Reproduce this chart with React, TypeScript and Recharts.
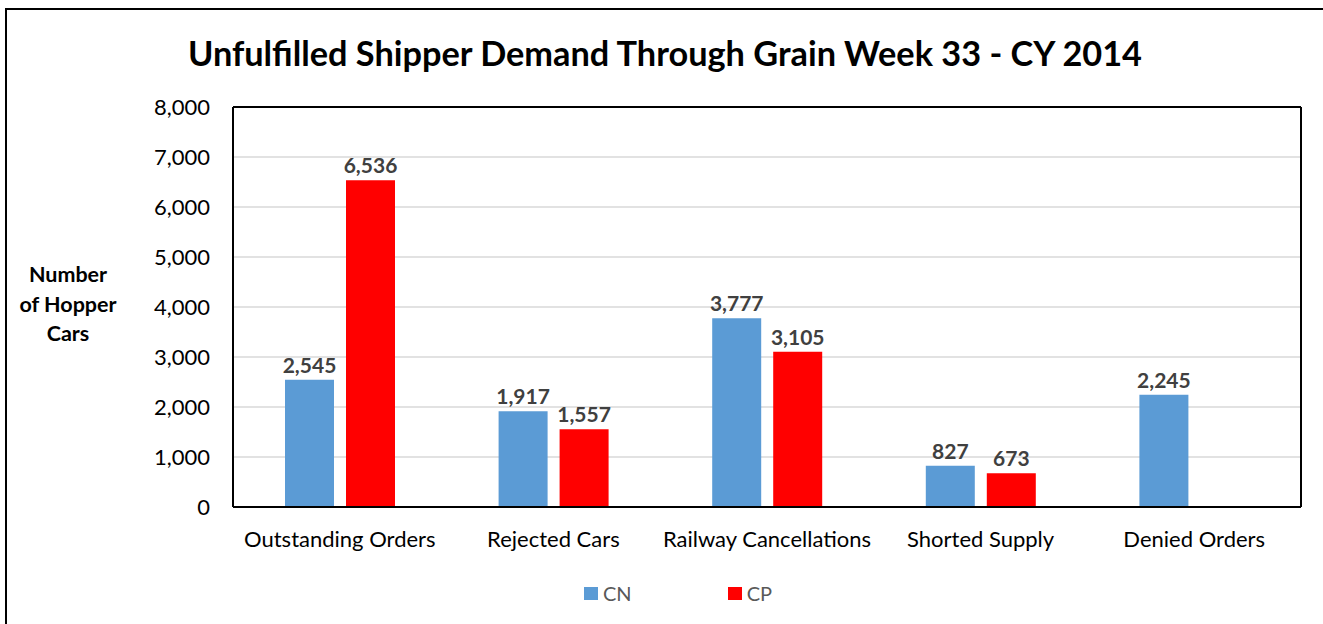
import { Bar, BarChart, CartesianGrid, LabelList, Legend, ReferenceLine, XAxis, YAxis } from "recharts";

const categories = [
  "Outstanding Orders",
  "Rejected Cars",
  "Railway Cancellations",
  "Shorted Supply",
  "Denied Orders",
];
const cnValues = [2545, 1917, 3777, 827, 2245];
const cpValues: (number | null)[] = [6536, 1557, 3105, 673, null];
const yTicks = [0, 1000, 2000, 3000, 4000, 5000, 6000, 7000, 8000];

const FONT = "Lato, 'Open Sans', sans-serif";
const CN_COLOR = "#5b9bd5";
const CP_COLOR = "#ff0000";

const data = categories.map((name, i) => ({ name, CN: cnValues[i], CP: cpValues[i] }));

const fmt = (v: number | null | undefined) => (v == null ? "" : Number(v).toLocaleString("en-US"));

const LegendContent = ({ payload }: any) => (
  <div style={{ display: "flex", justifyContent: "center", paddingLeft: 26, fontFamily: FONT }}>
    {(payload || []).map((p: any, i: number) => (
      <div key={p.value} style={{ display: "flex", alignItems: "center", marginLeft: i ? 96 : 0 }}>
        <span style={{ width: 14, height: 13, background: p.color, display: "inline-block" }} />
        <span style={{ marginLeft: 5, fontSize: 20, color: "#595959" }}>{p.value}</span>
      </div>
    ))}
  </div>
);

const App = () => {
  return (
    <div
      style={{
        position: "absolute",
        left: 5,
        top: 8,
        width: 1318,
        height: 616,
        borderLeft: "2px solid #000",
        borderTop: "2px solid #000",
        boxSizing: "border-box",
        background: "#fff",
        fontFamily: FONT,
      }}
    >
      <div
        style={{
          position: "absolute",
          left: 0,
          top: 22,
          width: 1316,
          textAlign: "center",
          fontSize: 34.3,
          fontWeight: 700,
          color: "#000",
          whiteSpace: "nowrap",
        }}
      >
        Unfulfilled Shipper Demand Through Grain Week 33 - CY 2014
      </div>
      <div
        style={{
          position: "absolute",
          left: 1,
          top: 250,
          width: 120,
          textAlign: "center",
          fontSize: 21.5,
          fontWeight: 700,
          lineHeight: "29.5px",
          color: "#000",
        }}
      >
        Number
        <br />
        of Hopper
        <br />
        Cars
      </div>
      <BarChart
        width={1316}
        height={614}
        data={data}
        margin={{ top: 97, right: 22, left: 126, bottom: 67 }}
        barSize={49}
        barGap={12}
      >
        <CartesianGrid vertical={false} stroke="#d9d9d9" strokeWidth={1.3} />
        <XAxis
          dataKey="name"
          height={50}
          tickSize={0}
          tickMargin={24}
          axisLine={{ stroke: "#000", strokeWidth: 2 }}
          tick={{ fill: "#000", fontSize: 22, fontFamily: FONT }}
        />
        <YAxis
          width={100}
          domain={[0, 8000]}
          ticks={yTicks}
          tickFormatter={fmt}
          tickSize={0}
          tickMargin={23}
          axisLine={{ stroke: "#000", strokeWidth: 2 }}
          tick={{ fill: "#000", fontSize: 22, fontFamily: FONT }}
        />
        <ReferenceLine y={8000} stroke="#000" strokeWidth={2} />
        <ReferenceLine x="Denied Orders" position="end" stroke="#000" strokeWidth={2} />
        <Legend
          verticalAlign="middle"
          wrapperStyle={{ left: 0, width: 1316, top: 571 }}
          content={<LegendContent />}
        />
        <Bar dataKey="CN" name="CN" fill={CN_COLOR} isAnimationActive={false}>
          <LabelList
            dataKey="CN"
            position="top"
            offset={7}
            formatter={fmt}
            style={{ fill: "#404040", fontSize: 21, fontWeight: 700, fontFamily: FONT }}
          />
        </Bar>
        <Bar dataKey="CP" name="CP" fill={CP_COLOR} isAnimationActive={false}>
          <LabelList
            dataKey="CP"
            position="top"
            offset={7}
            formatter={fmt}
            style={{ fill: "#404040", fontSize: 21, fontWeight: 700, fontFamily: FONT }}
          />
        </Bar>
      </BarChart>
    </div>
  );
};

export default App;
